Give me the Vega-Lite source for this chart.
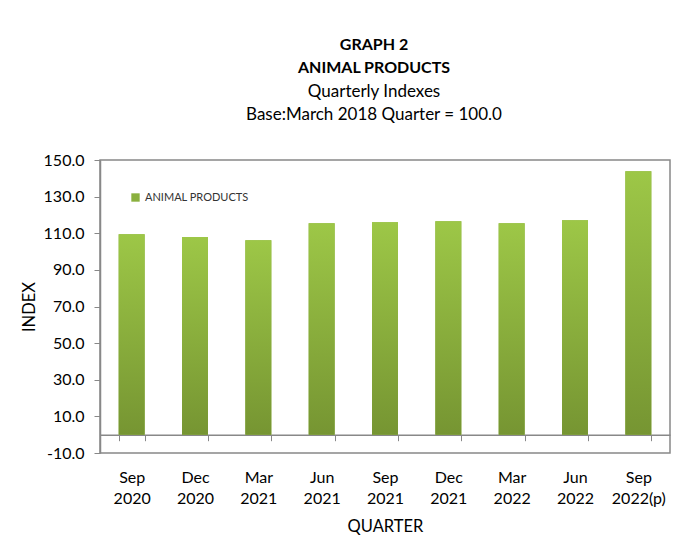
{
  "$schema": "https://vega.github.io/schema/vega-lite/v6.json",
  "width": 570,
  "height": 293,
  "autosize": "none",
  "padding": {"left": 100, "top": 160, "right": 25, "bottom": 98},
  "background": "white",
  "title": {
    "text": ["GRAPH 2", "ANIMAL PRODUCTS"],
    "subtitle": ["Quarterly Indexes", "Base:March 2018 Quarter = 100.0"],
    "anchor": "middle",
    "dx": -11,
    "offset": 29,
    "font": "Lato",
    "fontSize": 16,
    "fontWeight": "bold",
    "color": "#000000",
    "lineHeight": 23,
    "subtitleFont": "Lato",
    "subtitleFontSize": 17,
    "subtitleColor": "#000000",
    "subtitleLineHeight": 23,
    "subtitlePadding": 8
  },
  "data": {
    "values": [
      {"quarter": "Sep 2020", "index": 109.5},
      {"quarter": "Dec 2020", "index": 107.9},
      {"quarter": "Mar 2021", "index": 106.2},
      {"quarter": "Jun 2021", "index": 115.5},
      {"quarter": "Sep 2021", "index": 116.0},
      {"quarter": "Dec 2021", "index": 116.6},
      {"quarter": "Mar 2022", "index": 115.5},
      {"quarter": "Jun 2022", "index": 117.1},
      {"quarter": "Sep 2022(p)", "index": 143.9}
    ]
  },
  "encoding": {
    "x": {
      "field": "quarter",
      "type": "nominal",
      "sort": null,
      "scale": {"paddingInner": 0.59, "paddingOuter": 0.295},
      "axis": {
        "title": "QUARTER",
        "offset": -18.3,
        "labelAngle": 0,
        "labelExpr": "split(datum.label, ' ')",
        "labelLineHeight": 21,
        "labelPadding": 29,
        "labelFont": "Lato",
        "labelFontSize": 16,
        "labelColor": "#000000",
        "tickBand": "extent",
        "tickSize": 6,
        "tickColor": "#888888",
        "domainColor": "#888888",
        "domainWidth": 1.5,
        "titleFont": "Lato",
        "titleFontSize": 16.5,
        "titleFontWeight": "normal",
        "titleColor": "#000000",
        "titlePadding": 12
      }
    },
    "y": {
      "field": "index",
      "type": "quantitative",
      "scale": {"domain": [-10, 150], "nice": false, "zero": false},
      "axis": {
        "title": "INDEX",
        "values": [-10, 10, 30, 50, 70, 90, 110, 130, 150],
        "labelExpr": "replace(format(datum.value, '.1f'), '\u2212', '-')",
        "grid": false,
        "labelFont": "Lato",
        "labelFontSize": 16,
        "labelColor": "#000000",
        "labelPadding": 10,
        "tickSize": 6,
        "tickColor": "#888888",
        "domainColor": "#888888",
        "domainWidth": 1.5,
        "titleFont": "Lato",
        "titleFontSize": 16.5,
        "titleFontWeight": "normal",
        "titleColor": "#000000",
        "titlePadding": 6
      }
    },
    "y2": {"datum": 0}
  },
  "layer": [
    {
      "mark": {"type": "bar"},
      "encoding": {
        "color": {
          "datum": "ANIMAL PRODUCTS",
          "type": "nominal",
          "scale": {"range": ["#8ab03e"]},
          "legend": {
            "title": null,
            "orient": "none",
            "legendX": 30,
            "legendY": 32,
            "symbolType": "square",
            "symbolSize": 70,
            "symbolStrokeWidth": 0,
            "labelFont": "Lato",
            "labelFontSize": 11,
            "labelColor": "#333333",
            "encode": {
              "symbols": {
                "update": {
                  "fill": {"value": {"gradient": "linear", "x1": 0, "y1": 0, "x2": 0, "y2": 1,
                    "stops": [{"offset": 0, "color": "#9dc747"}, {"offset": 1, "color": "#769532"}]}}
                }
              }
            }
          }
        }
      }
    },
    {
      "mark": {
        "type": "bar",
        "color": {"gradient": "linear", "x1": 0, "y1": 0, "x2": 0, "y2": 1,
          "stops": [{"offset": 0, "color": "#9dc747"}, {"offset": 1, "color": "#769532"}]}
      }
    }
  ],
  "config": {
    "view": {"stroke": "#888888", "strokeWidth": 1.5}
  }
}
